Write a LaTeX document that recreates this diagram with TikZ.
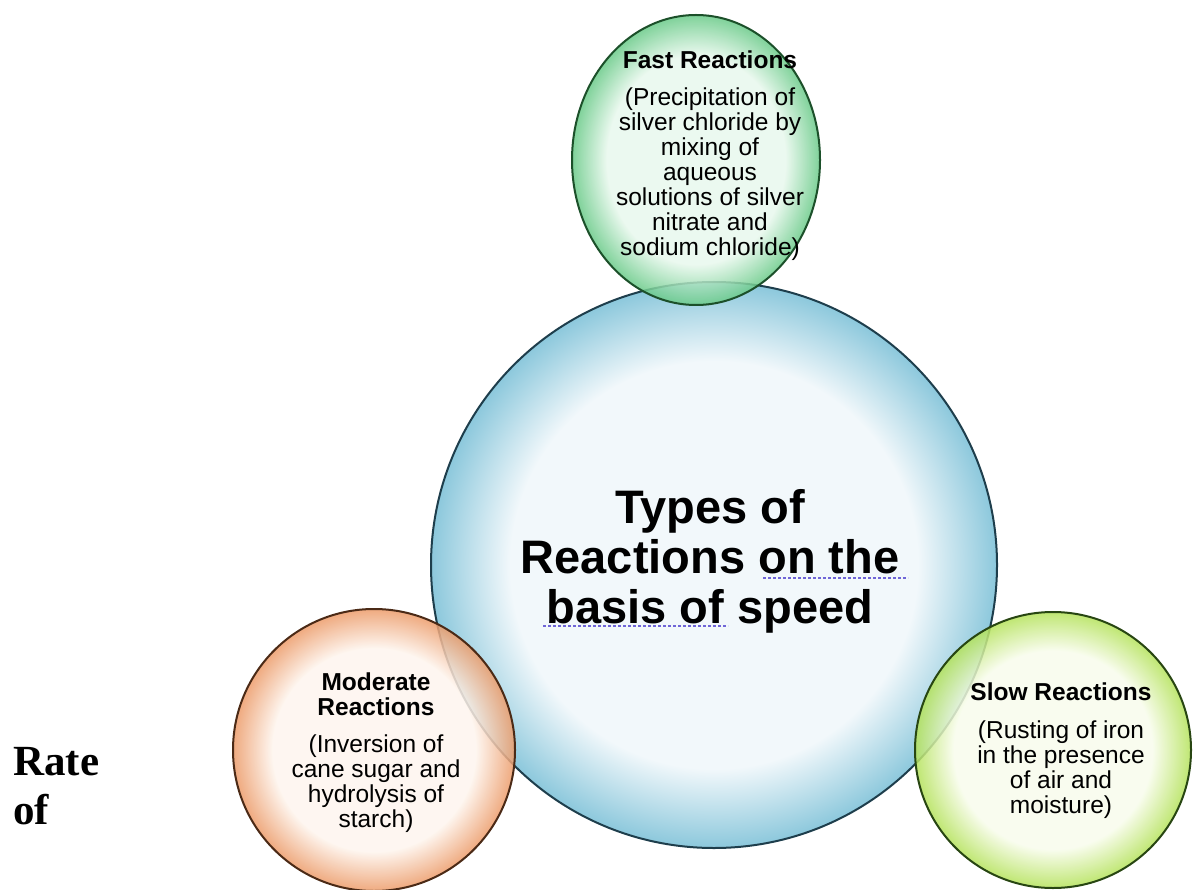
\documentclass[tikz,border=0pt]{standalone}
\usepackage{fontspec}
\setmainfont{Liberation Sans}
\newfontfamily\ratefont{Liberation Serif}
\usepackage{tikz}
\usetikzlibrary{shapes.geometric}
\definecolor{BlueRim}{RGB}{140,200,220}
\definecolor{BlueCore}{RGB}{242,248,251}
\definecolor{BlueLine}{RGB}{30,62,76}
\definecolor{MintRim}{RGB}{105,202,136}
\definecolor{MintCore}{RGB}{232,248,237}
\definecolor{MintLine}{RGB}{28,80,42}
\definecolor{PeachRim}{RGB}{236,155,105}
\definecolor{PeachCore}{RGB}{254,245,238}
\definecolor{PeachLine}{RGB}{75,42,22}
\definecolor{LimeRim}{RGB}{180,226,90}
\definecolor{LimeCore}{RGB}{248,252,236}
\definecolor{LimeLine}{RGB}{40,70,18}
\definecolor{SpellBlue}{RGB}{112,102,215}
\colorlet{bubcore}{white}
\colorlet{bubrim}{white}
\pgfdeclareradialshading[bubcore,bubrim]{bubble}{\pgfpointorigin}{%
  color(0bp)=(bubcore); color(18bp)=(bubcore);
  color(25bp)=(bubrim); color(50bp)=(bubrim)}
\tikzset{
  bubble/.style={draw=#1Line,line width=2pt,inner sep=0pt,
    /utils/exec={\colorlet{bubcore}{#1Core}\colorlet{bubrim}{#1Rim}},
    shading=bubble},
  sidebubble/.style={bubble=#1,circle,fill opacity=0.85},
  txt/.style={align=center,inner sep=0pt,anchor=north,
    font=\fontsize{24.5}{25}\selectfont},
  spellmark/.style={SpellBlue,line width=2pt,dash pattern=on 3pt off 2pt}
}

\begin{document}
\begin{tikzpicture}[x=1pt,y=-1pt]
  \useasboundingbox (0,0) rectangle (1193,890);
  % bubbles
  \node[bubble=Blue,circle,minimum size=566pt] (speed) at (714,565) {};
  \node[sidebubble=Mint,ellipse,minimum width=248pt,minimum height=290pt]
    (fast) at (696,160) {};
  \node[sidebubble=Peach,minimum size=282pt] (moderate) at (374,750) {};
  \node[sidebubble=Lime,minimum size=276pt] (slow) at (1053,750) {};
  % texts
  \node[align=center,inner sep=0pt,anchor=north,
    font=\bfseries\fontsize{47}{50}\selectfont] (speedtxt) at (710,489)
    {Types of\\Reactions on the\\basis of speed};
  \draw[spellmark] (763,578) -- (908,578);
  \draw[spellmark] (543,626) -- (728,626);
  \node[txt] (fasttxt) at (710,51) {\textbf{Fast Reactions}\\[12pt]
    (Precipitation of\\silver chloride by\\mixing of\\aqueous\\
    solutions of silver\\nitrate and\\sodium chloride)};
  \node[txt] (moderatetxt) at (376,673) {\textbf{Moderate}\\\textbf{Reactions}\\[12pt]
    (Inversion of\\cane sugar and\\hydrolysis of\\starch)};
  \node[txt] (slowtxt) at (1061,683) {\textbf{Slow Reactions}\\[13pt]
    (Rusting of iron\\in the presence\\of air and\\moisture)};
  \node[align=left,inner sep=0pt,anchor=north west,
    font=\ratefont\bfseries\fontsize{43}{49}\selectfont] (rate) at (13,747)
    {Rate\\of};
\end{tikzpicture}
\end{document}
